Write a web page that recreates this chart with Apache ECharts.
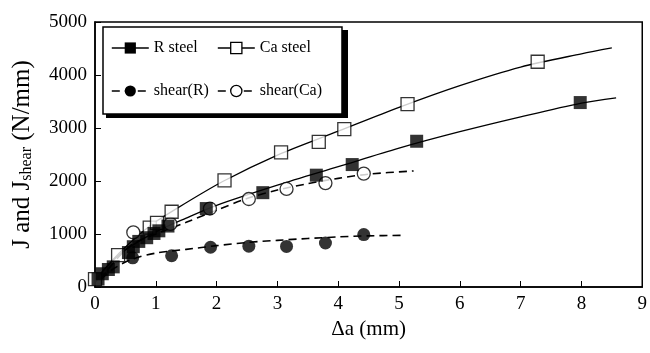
<!DOCTYPE html>
<html>
<head>
<meta charset="utf-8">
<script src="https://cdn.jsdelivr.net/npm/echarts@6/dist/echarts.min.js"></script>
<style>html,body{margin:0;padding:0;background:#fff}#c{width:650px;height:353px}</style>
</head>
<body>
<div id="c"></div>
<script>
// measured markers [Δa (mm), J (N/mm)]
const rSteel = [[0.05,150],[0.12,250],[0.22,330],[0.3,380],[0.55,650],[0.63,760],[0.72,860],[0.85,930],[0.97,1010],[1.05,1060],[1.2,1150],[1.83,1480],[2.76,1780],[3.64,2110],[4.23,2310],[5.29,2750],[7.98,3480]];
const caSteel = [[0.0,150],[0.38,600],[0.9,1120],[1.02,1210],[1.26,1420],[2.13,2010],[3.06,2540],[3.68,2740],[4.10,2980],[5.14,3450],[7.28,4250]];
const shearR = [[0.62,550],[1.26,590],[1.90,750],[2.53,770],[3.15,765],[3.79,830],[4.42,990]];
const shearCa = [[0.63,1030],[1.24,1190],[1.89,1480],[2.53,1660],[3.15,1850],[3.79,1960],[4.42,2140]];
// fitted curves
const rSteelFit = [[0.02,100],[0.1,260],[0.25,450],[0.5,700],[1.0,1040],[1.5,1300],[2.0,1540],[3.0,1920],[4.0,2270],[5.0,2620],[6.0,2930],[7.0,3210],[8.0,3470],[8.57,3570]];
const caSteelFit = [[0.02,150],[0.4,640],[0.9,1150],[1.3,1450],[2.1,1990],[3.0,2490],[4.0,2940],[5.0,3390],[6.0,3800],[7.0,4150],[8.0,4400],[8.5,4510]];
const shearRFit = [[0.1,150],[0.3,340],[0.6,520],[1.0,640],[1.5,710],[2.0,780],[2.5,840],[3.0,880],[3.5,915],[4.0,945],[4.5,965],[5.05,975]];
const shearCaFit = [[0.1,150],[0.3,450],[0.6,800],[1.0,1000],[1.5,1220],[2.0,1450],[2.5,1670],[3.0,1830],[3.5,1950],[4.0,2050],[4.5,2130],[5.24,2190]];
const names = ['R steel','Ca steel','shear(R)','shear(Ca)'];

const FONT = 'Liberation Serif';
const chart = echarts.init(document.getElementById('c'), null, {renderer:'canvas'});

const solid = {color:'#000', width:1.3, type:'solid'};
const dashed = {color:'#000', width:1.6, type:[8,5]};
const filled = {color:'#000', borderWidth:0};
const open = {color:'#fff', borderColor:'#000', borderWidth:1.3};

function fit(name, data, symbol, ls){
  return {name, type:'line', data, smooth:0.3, showSymbol:false, symbol, lineStyle:ls, silent:true, z:2, animation:false};
}
function pts(name, data, symbol, st, size){
  return {name, type:'scatter', data, symbol, symbolSize:size, itemStyle:st, z:3, animation:false};
}
function legItem(name, st, ls){
  return {name, itemStyle:st, lineStyle:Object.assign({opacity:1}, ls)};
}

chart.setOption({
  animation:false,
  backgroundColor:'#fff',
  textStyle:{fontFamily:FONT, color:'#000'},
  grid:{left:95, right:7, top:22, bottom:66, show:true, borderColor:'#000', borderWidth:1.5, backgroundColor:'transparent'},
  xAxis:{type:'value', min:0, max:9, interval:1,
    name:'\u0394a (mm)', nameLocation:'middle', nameGap:31,
    nameTextStyle:{fontFamily:FONT, fontSize:21, color:'#000'},
    axisLine:{lineStyle:{color:'#000', width:1.5}},
    axisTick:{inside:true, length:6, lineStyle:{color:'#000', width:1}},
    axisLabel:{fontFamily:FONT, fontSize:19, color:'#000', margin:8, formatter:v => String(v)},
    splitLine:{show:false}},
  yAxis:{type:'value', min:0, max:5000, interval:1000,
    name:'{m|J and J}{s|shear}{m| (N/mm)}', nameLocation:'middle', nameGap:60, nameRotate:90,
    nameTextStyle:{fontFamily:FONT, color:'#000',
      rich:{m:{fontFamily:FONT, fontSize:25, lineHeight:26, color:'#000'},
            s:{fontFamily:FONT, fontSize:16, lineHeight:11, verticalAlign:'bottom', color:'#000'}}},
    axisLine:{lineStyle:{color:'#000', width:1.5}},
    axisTick:{inside:true, length:6, lineStyle:{color:'#000', width:1}},
    axisLabel:{fontFamily:FONT, fontSize:19, color:'#000', margin:8, formatter:v => String(v)},
    splitLine:{show:false}},
  graphic:[
    {type:'rect', z:1, zlevel:0, shape:{x:106, y:30, width:242, height:88}, style:{fill:'#000'}, silent:true}
  ],
  legend:[
    {orient:'vertical', left:103, top:27, padding:[13,20,15,114], itemGap:27, itemWidth:37, itemHeight:14,
     backgroundColor:'#fff', borderColor:'#000', borderWidth:1.5, z:3,
     textStyle:{fontFamily:FONT, fontSize:16, color:'#000'},
     selectedMode:false,
     data:[legItem(names[1], open, solid), legItem(names[3], open, dashed)]},
    {orient:'vertical', left:111, top:40, padding:0, itemGap:27, itemWidth:37, itemHeight:14, z:4,
     textStyle:{fontFamily:FONT, fontSize:16, color:'#000'},
     selectedMode:false,
     data:[legItem(names[0], filled, solid), legItem(names[2], filled, dashed)]}
  ],
  series:[
    fit(names[0], rSteelFit, 'rect', solid),
    fit(names[1], caSteelFit, 'rect', solid),
    fit(names[2], shearRFit, 'circle', dashed),
    fit(names[3], shearCaFit, 'circle', dashed),
    pts(names[2], shearR, 'circle', filled, 13),
    pts(names[3], shearCa, 'circle', open, 13),
    pts(names[1], caSteel, 'rect', open, 13),
    pts(names[0], rSteel, 'rect', filled, 13)
  ]
});
</script>
</body>
</html>
